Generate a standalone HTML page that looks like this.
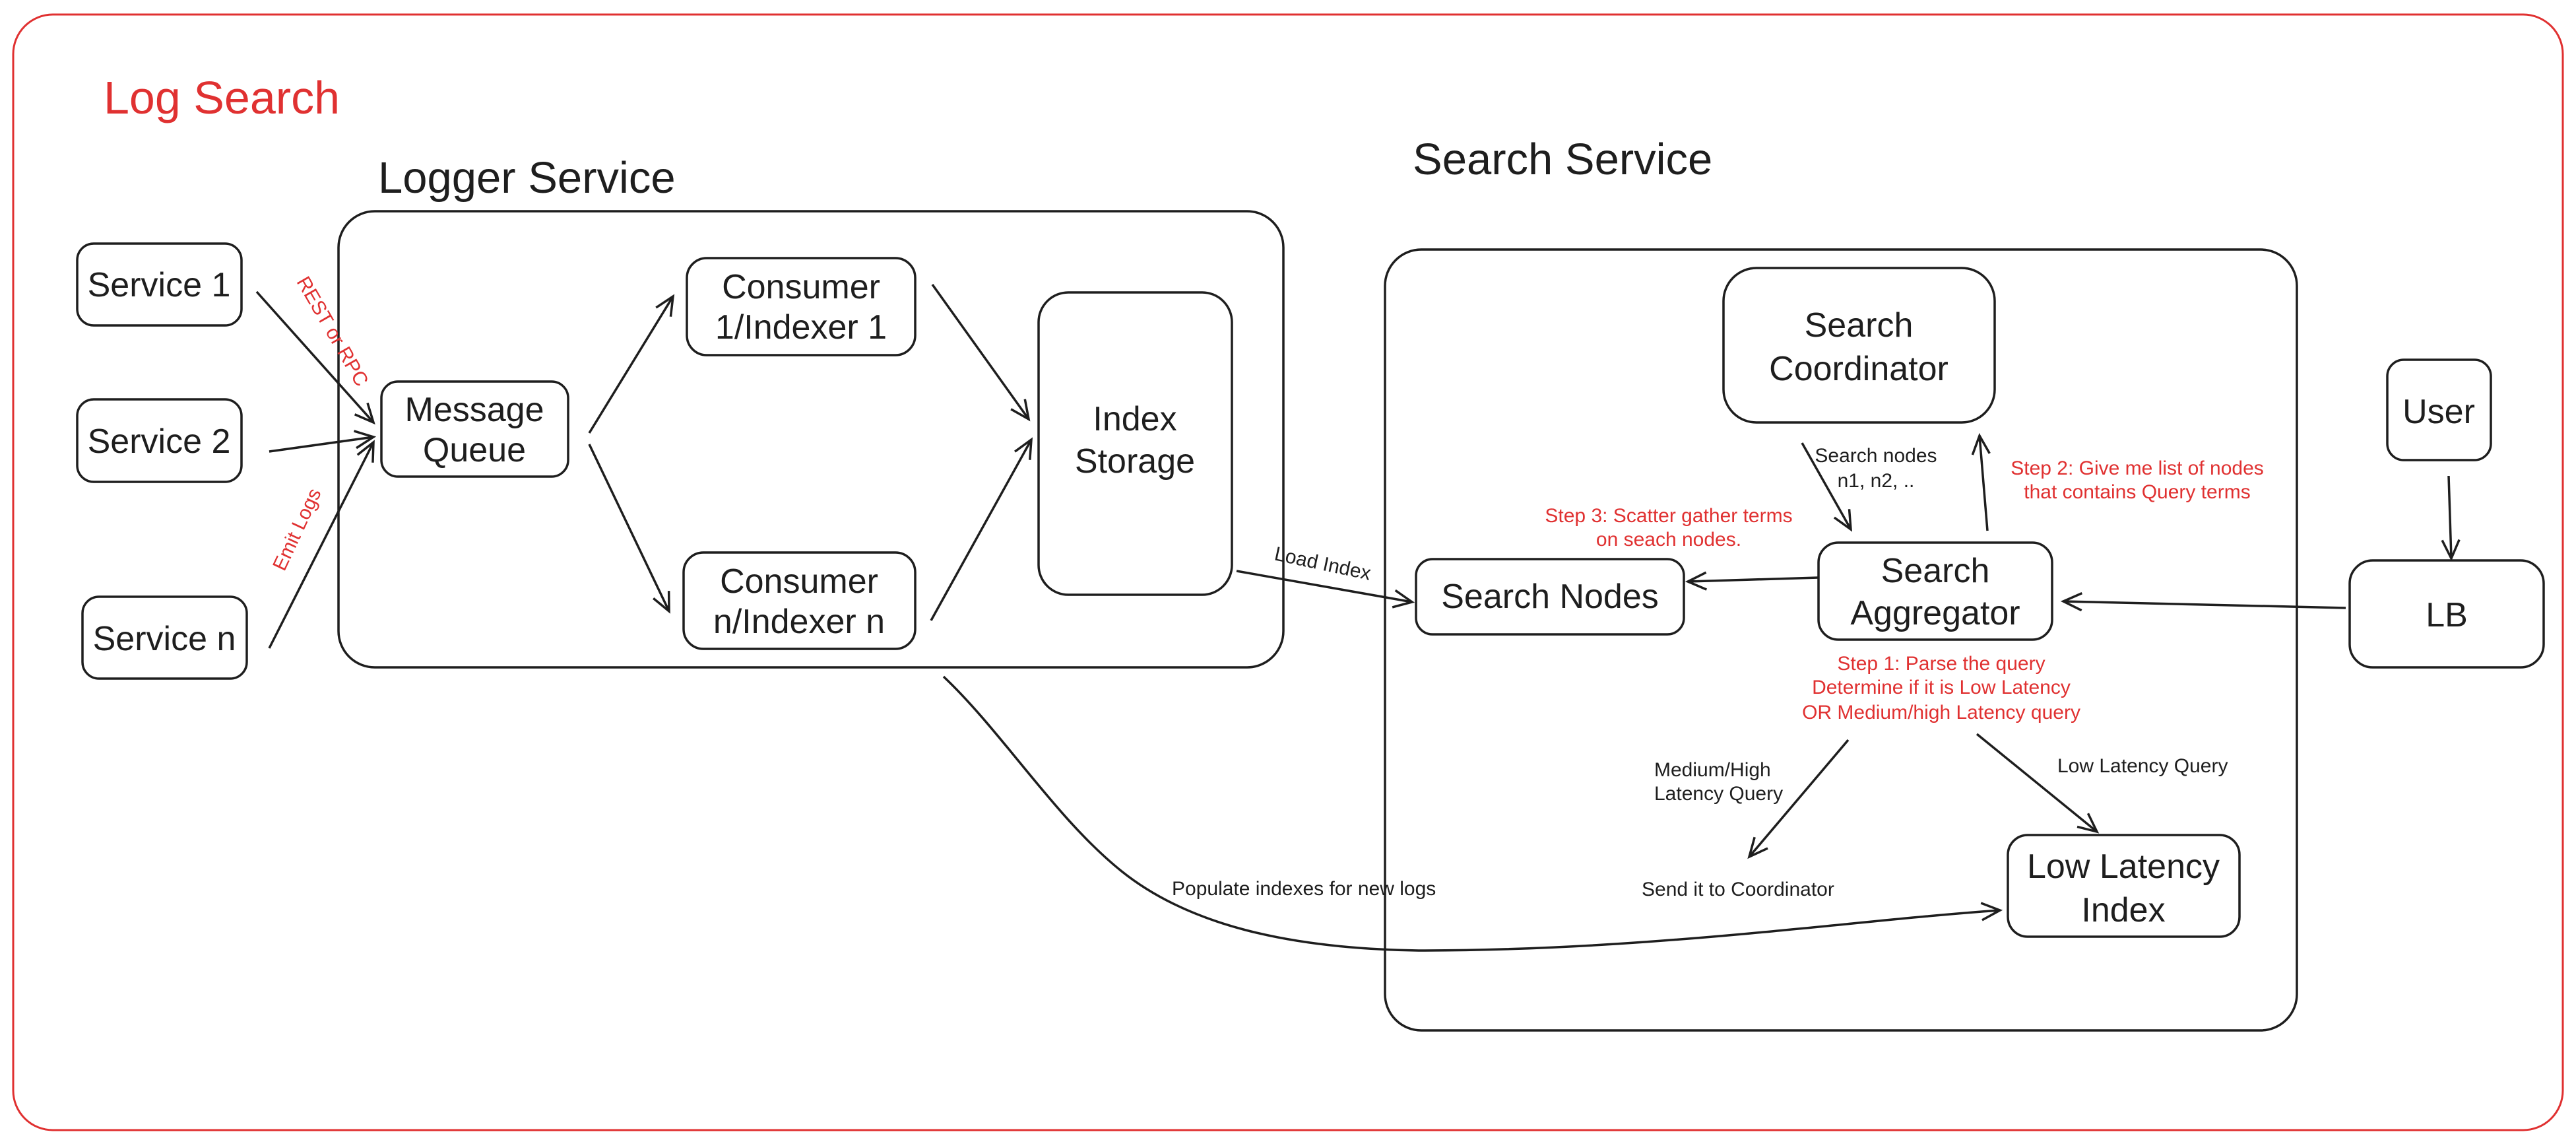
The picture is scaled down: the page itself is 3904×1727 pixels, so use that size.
<!DOCTYPE html>
<html><head><meta charset="utf-8"><style>
html,body{margin:0;padding:0;background:#fff;}
svg{display:block;}
text{font-family:"Liberation Sans",sans-serif;fill:#1e1e1e;}
.r{fill:#e03131;}
.b{font-size:52px;}
.s{font-size:30px;}
</style></head><body>
<svg width="3904" height="1727" viewBox="0 0 3904 1727" xmlns="http://www.w3.org/2000/svg">
<defs>
<marker id="a" markerWidth="40" markerHeight="40" refX="30" refY="15" orient="auto" markerUnits="userSpaceOnUse">
<path d="M2,2 L30,15 L2,28" fill="none" stroke="#1e1e1e" stroke-width="3.5"/>
</marker>
</defs>
<rect x="20" y="22" width="3864" height="1690" rx="60" fill="none" stroke="#e03131" stroke-width="3"/>
<text x="157" y="172" class="r" font-size="70">Log Search</text>
<text x="573" y="292" font-size="67">Logger Service</text>
<text x="2141" y="264" font-size="67">Search Service</text>

<g fill="none" stroke="#1e1e1e" stroke-width="3.5">
<rect x="513" y="320" width="1432" height="691" rx="55"/>
<rect x="2099" y="378" width="1382" height="1183" rx="55"/>
<rect x="117" y="369" width="249" height="124" rx="25"/>
<rect x="117" y="605" width="249" height="125" rx="25"/>
<rect x="125" y="904" width="249" height="124" rx="25"/>
<rect x="578" y="578" width="283" height="144" rx="25"/>
<rect x="1041" y="391" width="346" height="147" rx="30"/>
<rect x="1036" y="837" width="351" height="146" rx="30"/>
<rect x="1574" y="443" width="293" height="458" rx="45"/>
<rect x="2612" y="406" width="411" height="234" rx="50"/>
<rect x="2146" y="847" width="406" height="114" rx="25"/>
<rect x="2756" y="822" width="354" height="147" rx="30"/>
<rect x="3043" y="1265" width="351" height="154" rx="30"/>
<rect x="3618" y="545" width="157" height="152" rx="25"/>
<rect x="3561" y="849" width="294" height="162" rx="35"/>

<g marker-end="url(#a)">
<line x1="389" y1="442" x2="566" y2="640"/>
<line x1="408" y1="684" x2="566" y2="662"/>
<line x1="408" y1="982" x2="566" y2="670"/>
<line x1="893" y1="656" x2="1020" y2="449"/>
<line x1="893" y1="673" x2="1014" y2="926"/>
<line x1="1413" y1="431" x2="1559" y2="635"/>
<line x1="1411" y1="940" x2="1563" y2="666"/>
<line x1="1874" y1="865" x2="2140" y2="912"/>
<path d="M1430,1025 C1520,1110 1600,1240 1700,1320 C1800,1400 1950,1437 2150,1440 C2500,1440 2800,1395 3031,1379"/>
<line x1="2756" y1="875" x2="2558" y2="881"/>
<line x1="3555" y1="921" x2="3127" y2="911"/>
<line x1="3711" y1="721" x2="3715" y2="846"/>
<line x1="2731" y1="671" x2="2805" y2="802"/>
<line x1="3012" y1="804" x2="3000" y2="660"/>
<line x1="2801" y1="1121" x2="2651" y2="1298"/>
<line x1="2996" y1="1112" x2="3178" y2="1260"/>
</g>
</g>

<g class="b" text-anchor="middle">
<text x="241" y="449">Service 1</text>
<text x="241" y="686">Service 2</text>
<text x="249" y="985">Service n</text>
<text x="719" y="638">Message</text>
<text x="719" y="699">Queue</text>
<text x="1214" y="452">Consumer</text>
<text x="1214" y="513">1/Indexer 1</text>
<text x="1211" y="898">Consumer</text>
<text x="1211" y="959">n/Indexer n</text>
<text x="1720" y="652">Index</text>
<text x="1720" y="716">Storage</text>
<text x="2817" y="510">Search</text>
<text x="2817" y="576">Coordinator</text>
<text x="2349" y="921">Search Nodes</text>
<text x="2933" y="882">Search</text>
<text x="2933" y="946">Aggregator</text>
<text x="3218" y="1330">Low Latency</text>
<text x="3218" y="1396">Index</text>
<text x="3696" y="641">User</text>
<text x="3708" y="949">LB</text>
</g>

<g class="s">
<text x="2843" y="700" text-anchor="middle">Search nodes</text>
<text x="2843" y="738" text-anchor="middle">n1, n2, ..</text>
<text x="3239" y="719" text-anchor="middle" class="r">Step 2: Give me list of nodes</text>
<text x="3239" y="755" text-anchor="middle" class="r">that contains Query terms</text>
<text x="2529" y="791" text-anchor="middle" class="r">Step 3: Scatter gather terms</text>
<text x="2529" y="827" text-anchor="middle" class="r">on seach nodes.</text>
<text x="2942" y="1015" text-anchor="middle" class="r">Step 1: Parse the query</text>
<text x="2942" y="1051" text-anchor="middle" class="r">Determine if it is Low Latency</text>
<text x="2942" y="1089" text-anchor="middle" class="r">OR Medium/high Latency query</text>
<text x="2507" y="1176">Medium/High</text>
<text x="2507" y="1212">Latency Query</text>
<text x="3118" y="1170">Low Latency Query</text>
<text x="2488" y="1357">Send it to Coordinator</text>
<text x="1776" y="1356">Populate indexes for new logs</text>
<text x="1930" y="848" transform="rotate(12 1930 848)">Load Index</text>
<text x="504" y="512" text-anchor="middle" class="r" transform="rotate(60 504 502)">REST or RPC</text>
<text x="450" y="812" text-anchor="middle" class="r" transform="rotate(-65 450 802)">Emit Logs</text>
</g>
</svg>
</body></html>
